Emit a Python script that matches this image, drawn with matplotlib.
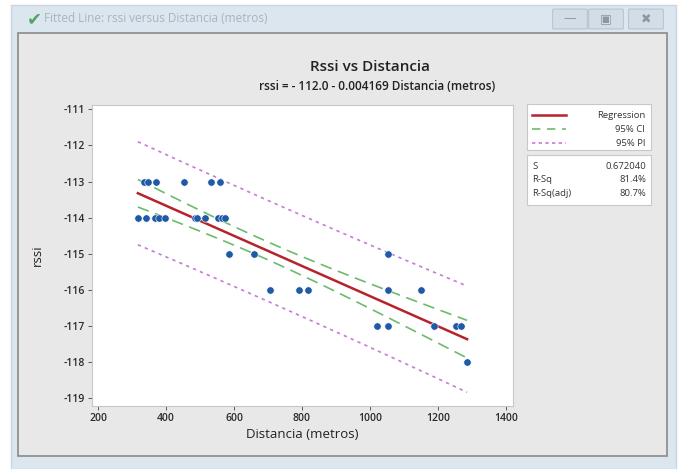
import numpy as np
import matplotlib
matplotlib.use("Agg")
import matplotlib.pyplot as plt
from matplotlib.patches import Rectangle, FancyBboxPatch

# ---- data ----
dist_m113 = [336, 346, 370, 454, 532, 559]
dist_m114 = [317, 341, 368, 379, 397, 485, 490, 514, 554, 564, 573]
dist_m115 = [586, 660, 1054]
dist_m116 = [706, 792, 817, 1054, 1149]
dist_m117 = [1021, 1054, 1188, 1252, 1268]
dist_m118 = [1286]
rssi_levels = [-113, -114, -115, -116, -117, -118]

intercept = -112.0
slope = -0.004169
s_value = 0.672040
t_crit = 2.045  # t(0.975, df=29)
stats_labels = ["S", "R-Sq", "R-Sq(adj)"]
stats_values = ["0.672040", "81.4%", "80.7%"]
legend_labels = ["Regression", "95% CI", "95% PI"]
xticks = [200, 400, 600, 800, 1000, 1200, 1400]
yticks = [-111, -112, -113, -114, -115, -116, -117, -118, -119]

groups = [dist_m113, dist_m114, dist_m115, dist_m116, dist_m117, dist_m118]
x = np.concatenate([np.array(g, float) for g in groups])
y = np.concatenate([np.full(len(g), lv, float) for g, lv in zip(groups, rssi_levels)])

W, H = 680, 469
plt.rcParams['font.family'] = ['Open Sans', 'DejaVu Sans']
plt.rcParams['axes.unicode_minus'] = False
fig = plt.figure(figsize=(W / 100, H / 100), dpi=100)

def fx(px):
    return px / W

def fy(py):
    return 1 - py / H

# background window chrome
fig.patch.set_facecolor("white")
fig.patches.append(Rectangle((fx(11), fy(469)), fx(665), 464 / H, transform=fig.transFigure,
                             facecolor="#dce6ef", edgecolor="#c9d6e2", lw=1, zorder=0))
fig.patches.append(Rectangle((fx(18), fy(456)), fx(649), 423 / H, transform=fig.transFigure,
                             facecolor="#e8e8e8", edgecolor="#8a8a8a", lw=1.2, zorder=1))
fig.text(fx(34), fy(19), "\u2714", color="#3a9a4a", fontsize=13, ha="center", va="center",
         family=["DejaVu Sans"], alpha=0.85)
fig.text(fx(44), fy(19), "Fitted Line: rssi versus Distancia (metros)", color="#a8b4bf",
         fontsize=8.5, ha="left", va="center")
for cx, sym in [(570, "\u2014"), (606, "\u25a3"), (646, "\u2716")]:
    fig.patches.append(FancyBboxPatch((fx(cx - 16), fy(28)), fx(32), 18 / H,
                                      boxstyle="round,pad=0.002", transform=fig.transFigure,
                                      facecolor="#d3dde8", edgecolor="#b8c4d0", lw=0.8, zorder=2))
    fig.text(fx(cx), fy(19), sym, color="#8c98a6", fontsize=9, ha="center", va="center",
             family=["DejaVu Sans"], zorder=3)

# axes
L, R, T, B = 92, 513, 105, 406
ax = fig.add_axes([fx(L), fy(B), fx(R - L), (B - T) / H])
ax.set_zorder(5)
ax.set_facecolor("white")
ax.set_xlim(182, 1421)
ax.set_ylim(-119.21, -110.88)

xs = np.linspace(x.min(), x.max(), 200)
n = len(x)
xbar = x.mean()
sxx = ((x - xbar) ** 2).sum()
fit = intercept + slope * xs
ci = t_crit * s_value * np.sqrt(1 / n + (xs - xbar) ** 2 / sxx)
pi = t_crit * s_value * np.sqrt(1 + 1 / n + (xs - xbar) ** 2 / sxx)

ax.plot(xs, fit, color="#b5232b", lw=1.8, zorder=3)
ax.plot(xs, fit + ci, color="#6cbb6c", lw=1.2, ls=(0, (7, 4)), zorder=2)
ax.plot(xs, fit - ci, color="#6cbb6c", lw=1.2, ls=(0, (7, 4)), zorder=2)
ax.plot(xs, fit + pi, color="#c77bd6", lw=1.2, ls=(0, (2, 2.5)), zorder=2)
ax.plot(xs, fit - pi, color="#c77bd6", lw=1.2, ls=(0, (2, 2.5)), zorder=2)
ax.scatter(x, y, s=28, color="#1f5aa6", edgecolors="white", linewidths=0.4, zorder=4)

ax.set_xticks(xticks)
ax.set_yticks(yticks)
ax.tick_params(axis="both", labelsize=7.5, colors="#444444", length=3, width=0.6,
               direction="out", pad=2)
for lab in ax.get_xticklabels() + ax.get_yticklabels():
    lab.set_color("#2a2a2a")
    lab.set_fontweight("semibold")
for sp in ax.spines.values():
    sp.set_color("#c8c8c8")
    sp.set_linewidth(0.8)
ax.set_xlabel("Distancia (metros)", fontsize=9.5, color="#222222", labelpad=3)
ax.set_ylabel("rssi", fontsize=9.5, color="#222222", labelpad=14)

fig.text(fx(370), fy(67), "Rssi vs Distancia", fontsize=11, fontweight="semibold",
         ha="center", va="center", color="#222222")
fig.text(fx(377), fy(86), "rssi = - 112.0 - 0.004169 Distancia (metros)", fontsize=8.5,
         fontweight="semibold", ha="center", va="center", color="#222222")

# legend box
fig.patches.append(Rectangle((fx(527), fy(150)), fx(124), 46 / H, transform=fig.transFigure,
                             facecolor="white", edgecolor="#c8c8c8", lw=0.8, zorder=2))
ly = [115, 129, 143]
styles = [dict(color="#b5232b", lw=1.8, ls="-"),
          dict(color="#6cbb6c", lw=1.2, ls=(0, (5, 4))),
          dict(color="#c77bd6", lw=1.2, ls=(0, (2, 2)))]
for yy, lab, st in zip(ly, legend_labels, styles):
    fig.add_artist(plt.Line2D([fx(532), fx(566)], [fy(yy), fy(yy)], transform=fig.transFigure,
                              zorder=3, **st))
    fig.text(fx(645), fy(yy), lab, fontsize=6.8, ha="right", va="center", color="#333333",
             zorder=4)

# stats box
fig.patches.append(Rectangle((fx(527), fy(205)), fx(124), 50 / H, transform=fig.transFigure,
                             facecolor="white", edgecolor="#c8c8c8", lw=0.8, zorder=2))
for yy, lab, val in zip([166, 180, 194], stats_labels, stats_values):
    fig.text(fx(532), fy(yy), lab, fontsize=6.8, ha="left", va="center", color="#333333", zorder=4)
    fig.text(fx(646), fy(yy), val, fontsize=6.8, ha="right", va="center", color="#333333", zorder=4)

fig.savefig("out.png", dpi=100)
